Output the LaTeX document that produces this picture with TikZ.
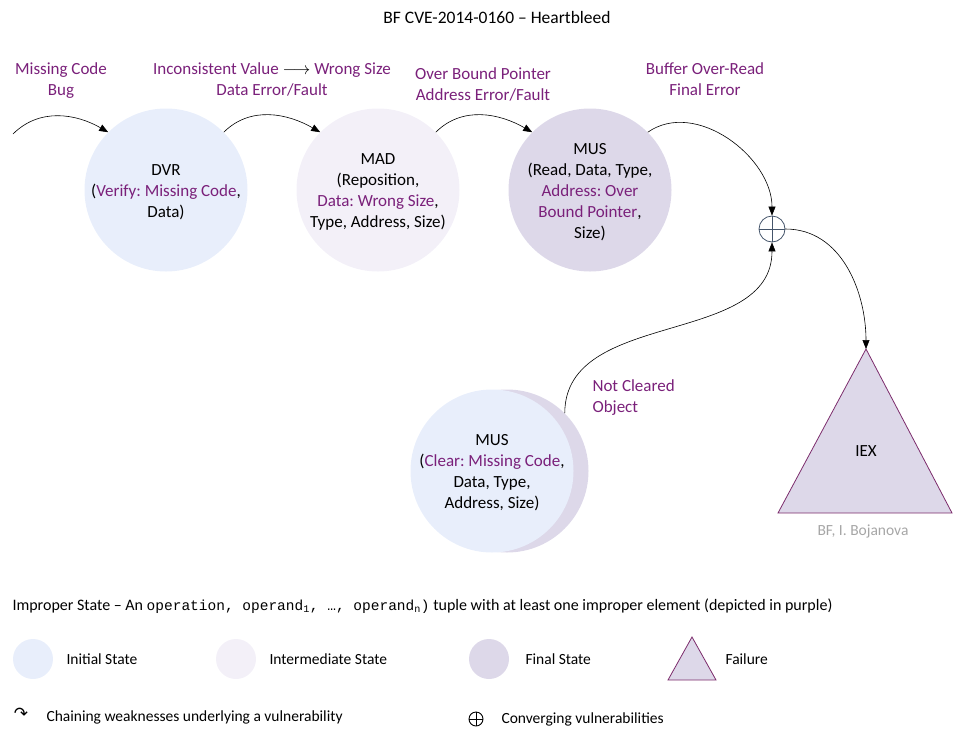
\documentclass[tikz,border=0pt]{standalone}
\usepackage{fontspec}
\setmainfont{Carlito}
\setmonofont{Liberation Mono}
\newfontfamily\symfont{DejaVu Sans}
\usepackage{tikz}
\usetikzlibrary{arrows.meta, positioning, calc}
\definecolor{impr}{RGB}{122,32,122}
\definecolor{initfill}{RGB}{232,238,251}
\definecolor{interfill}{RGB}{243,240,248}
\definecolor{finalfill}{RGB}{221,216,233}
\definecolor{convcol}{RGB}{68,84,106}
\definecolor{failedge}{RGB}{124,44,108}
\newcommand{\imp}[1]{\textcolor{impr}{#1}}
\frenchspacing

\begin{document}
\begin{tikzpicture}[x=1pt, y=1pt,
                state/.style={circle, minimum size=163pt, inner sep=0pt, align=center, font=\fontsize{17}{21}\selectfont},
                initst/.style={state, fill=initfill},
                interst/.style={state, fill=interfill},
                finalst/.style={state, fill=finalfill},
                lbl/.style={text=impr, align=center, font=\fontsize{17}{21}\selectfont},
                chain/.style={-{Triangle[length=9pt, width=7pt]}, line width=0.6pt},
                conv/.style={circle, draw=convcol, line width=0.8pt, minimum size=26pt, inner sep=0pt},
                failure/.style={fill=finalfill, draw=failedge, line width=0.8pt},
                legend/.style={anchor=west, font=\fontsize{15.5}{18}\selectfont}]

    \useasboundingbox (0,0) rectangle (953,-729);

    \node[font=\fontsize{17.5}{21}\selectfont] (title) at (497,-17) {BF CVE-2014-0160 -- Heartbleed};

    % states
    \node[initst] (dvr) at (166,-190) {};
    \node[font=\fontsize{17}{21}\selectfont, align=center] (dvrtxt) at (166,-192) {DVR\\(\imp{Verify: Missing Code},\\Data)};
    \node[interst] (mad) at (378,-190) {};
    \node[font=\fontsize{17}{21}\selectfont, align=center] (madtxt) at (378,-192) {MAD\\(Reposition,\\\imp{Data: Wrong Size},\\Type, Address, Size)};
    \node[finalst] (mus) at (590,-190) {};
    \node[font=\fontsize{17}{21}\selectfont, align=center] (mustxt) at (590,-192) {MUS\\(Read, Data, Type,\\\imp{Address: Over}\\\imp{Bound Pointer},\\Size)};
    \node[finalst] (musback) at (507,-471) {};
    \node[initst] (musclr) at (492,-471) {};
    \node[font=\fontsize{17}{21}\selectfont, align=center] (musclrtxt) at (492,-473) {MUS\\(\imp{Clear: Missing Code},\\Data, Type,\\Address, Size)};

    % failure
    \draw[failure] (866,-349) coordinate (iextop) -- (952,-513) -- (778,-513) -- cycle;
    \node[font=\fontsize{17}{21}\selectfont] (iex) at (866,-451) {IEX};
    \node[font=\fontsize{15.5}{18}\selectfont, text=gray!70] (credit) at (863,-531) {BF, I. Bojanova};

    % converging
    \node[conv] (plus) at (772,-229) {};
    \draw[convcol, line width=0.8pt] (plus.north) -- (plus.south) (plus.west) -- (plus.east);

    % chaining
    \coordinate (src) at (13,-134);
    \draw[chain] (src) to[out=45, in=150] (dvr.135);
    \draw[chain] (dvr.45) to[out=45, in=150] (mad.135);
    \draw[chain] (mad.45) to[out=45, in=150] (mus.135);
    \draw[chain] (mus.45) to[out=35, in=90] (plus.north);
    \draw[chain] (musback.45) to[out=90, in=-90] (plus.south);
    \draw[chain] (plus.east) to[out=0, in=90] (iextop);

    % labels
    \node[lbl] (bug) at (61,-81) {Missing Code\\Bug};
    \node[lbl] (err1) at (272,-79) {Inconsistent Value \textcolor{black}{$\longrightarrow$} Wrong Size\\Data Error/Fault};
    \node[lbl] (err2) at (483,-84) {Over Bound Pointer\\Address Error/Fault};
    \node[lbl] (final) at (705,-79) {Buffer Over-Read\\Final Error};
    \node[lbl, align=left, anchor=west] (notclr) at (589,-398) {Not Cleared\\Object};

    % legend
    \node[legend, font=\fontsize{16}{18}\selectfont] (improper) at (9,-606) {Improper State -- An {\ttfamily\fontsize{14.5}{16}\selectfont operation, operand\textsubscript{1}, …, operand\textsubscript{n})} tuple with at least one improper element (depicted in purple)};
    \node[circle, fill=initfill, minimum size=40pt] (leginit) at (33,-659) {};
    \node[legend] (txtinit) at (63,-659) {Initial State};
    \node[circle, fill=interfill, minimum size=40pt] (leginter) at (236,-659) {};
    \node[legend] (txtinter) at (266,-659) {Intermediate State};
    \node[circle, fill=finalfill, minimum size=40pt] (legfinal) at (489,-659) {};
    \node[legend] (txtfinal) at (522,-659) {Final State};
    \draw[failure] (692,-637) -- (716,-680) -- (668,-680) -- cycle;
    \node[legend] (txtfail) at (722,-659) {Failure};
    \node[font=\symfont\fontsize{17}{19}\selectfont] (legchain) at (21,-714) {↷};
    \node[legend] (txtchain) at (43,-717) {Chaining weaknesses underlying a vulnerability};
    \node[circle, draw, line width=0.9pt, minimum size=14pt, inner sep=0pt] (legconv) at (476,-719) {};
    \draw[line width=0.9pt] (legconv.north) -- (legconv.south) (legconv.west) -- (legconv.east);
    \node[legend] (txtconv) at (498,-719) {Converging vulnerabilities};
\end{tikzpicture}
\end{document}
